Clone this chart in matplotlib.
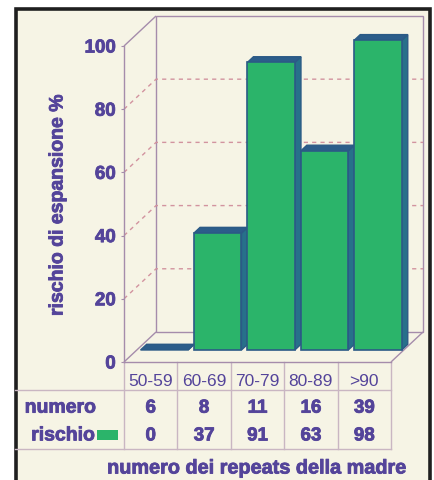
import matplotlib
matplotlib.use("Agg")
import matplotlib.pyplot as plt
import matplotlib.patheffects as pe
from matplotlib.patches import Polygon, Rectangle

# ---- data ----
categories = ["50-59", "60-69", "70-79", "80-89", ">90"]
numero = [6, 8, 11, 16, 39]
rischio = [0, 37, 91, 63, 98]
yticks = [0, 20, 40, 60, 80, 100]

# ---- style ----
BG = "#f6f4e5"
TXT = "#54449a"
WALL = "#a58cab"
GRID = "#d2939f"
TAB = "#c9b6c2"
GREEN = "#2bb46a"
SIDE = "#27708a"
TOP = "#2c5d8a"
EDGE = "#2b5a86"
FONT = "Liberation Sans"
HEAVY = [pe.withStroke(linewidth=0.6, foreground=TXT)]

W, H = 434, 480
fig = plt.figure(figsize=(W / 100, H / 100), dpi=100)
fig.patch.set_facecolor("white")

# outer panel with dark frame
frame = Rectangle((16 / W, -0.02), (430 - 16) / W, (480 - 9) / H + 0.02,
                  transform=fig.transFigure, facecolor=BG,
                  edgecolor="#1f1f1f", lw=2.6, zorder=0)
fig.add_artist(frame)

ax = fig.add_axes([124 / W, 1 - 362 / H, 267 / W, 316 / H])
ax.set_facecolor("none")
ax.set_xlim(0, len(categories))
ax.set_ylim(0, 100)

# oblique depth projection (full depth, in data units)
DX = 0.60
DY = 9.5


def P(x, v, z):
    return (x + z * DX, v + z * DY)


n = len(categories)
line_kw = dict(color=WALL, lw=1.0, clip_on=False, solid_capstyle="butt")

# back wall
wall = Polygon([P(0, 0, 1), P(n, 0, 1), P(n, 100, 1), P(0, 100, 1)],
               closed=True, fill=False, edgecolor=WALL, lw=1.0,
               clip_on=False, zorder=1)
ax.add_patch(wall)
# side / floor edges
for a, b in [((0, 100, 0), (0, 100, 1)), ((0, 0, 0), (0, 0, 1)),
             ((n, 0, 0), (n, 0, 1))]:
    pa, pb = P(*a), P(*b)
    ax.plot([pa[0], pb[0]], [pa[1], pb[1]], zorder=1, **line_kw)

# dashed gridlines on side and back walls
for v in yticks[1:-1]:
    p0, p1, p2 = P(0, v, 0), P(0, v, 1), P(n, v, 1)
    ax.plot([p0[0], p1[0], p2[0]], [p0[1], p1[1], p2[1]], color=GRID,
            lw=1.0, ls=(0, (3, 3)), clip_on=False, zorder=1)

# bars
Z0, Z1 = 0.40, 0.59
for i, h in enumerate(rischio):
    x0, x1 = i + 0.07, i + 0.96
    side = [P(x1, 0, Z0), P(x1, 0, Z1), P(x1, h, Z1), P(x1, h, Z0)]
    top = [P(x0, h, Z0), P(x1, h, Z0), P(x1, h, Z1), P(x0, h, Z1)]
    front = [P(x0, 0, Z0), P(x1, 0, Z0), P(x1, h, Z0), P(x0, h, Z0)]
    ax.add_patch(Polygon(side, closed=True, facecolor=SIDE, edgecolor=EDGE,
                         lw=1.0, clip_on=False, zorder=3))
    ax.add_patch(Polygon(top, closed=True, facecolor=TOP, edgecolor=EDGE,
                         lw=1.0, clip_on=False, zorder=3))
    if h > 0:
        ax.add_patch(Polygon(front, closed=True, facecolor=GREEN,
                             edgecolor=EDGE, lw=1.2, clip_on=False, zorder=4))

# front axes
for s in ["top", "right"]:
    ax.spines[s].set_visible(False)
for s in ["left", "bottom"]:
    ax.spines[s].set_color(WALL)
    ax.spines[s].set_linewidth(1.0)
ax.set_xticks([])
ax.set_yticks(yticks)
ax.set_yticklabels([str(t) for t in yticks], fontfamily=FONT,
                   fontweight="bold", fontsize=13.5, color=TXT)
for lab in ax.get_yticklabels():
    lab.set_path_effects(HEAVY)
ax.tick_params(axis="y", length=2, color=WALL, pad=4)

# table beneath the chart
ROW_CAT = -6.3
LINE1 = -8.9
ROW_NUM = -14.6
ROW_RIS = -23.4
BOTTOM = -27.5
LEFT = -2.05

tab_kw = dict(color=TAB, lw=1.0, clip_on=False)
for k in range(n + 1):
    ax.plot([k, k], [0, BOTTOM], **tab_kw)
ax.plot([LEFT, n], [LINE1, LINE1], **tab_kw)
ax.plot([LEFT, n], [BOTTOM, BOTTOM], **tab_kw)

txt_kw = dict(fontfamily=FONT, color=TXT, clip_on=False)
for i, c in enumerate(categories):
    ax.text(i + 0.5, ROW_CAT, c, ha="center", va="center", fontsize=12.5,
            **txt_kw)
    ax.text(i + 0.5, ROW_NUM, str(numero[i]), ha="center", va="center",
            fontsize=13.5, fontweight="bold", path_effects=HEAVY, **txt_kw)
    ax.text(i + 0.5, ROW_RIS, str(rischio[i]), ha="center", va="center",
            fontsize=13.5, fontweight="bold", path_effects=HEAVY, **txt_kw)

ax.text(-1.86, ROW_NUM, "numero", ha="left", va="center", fontsize=14,
        fontweight="bold", path_effects=HEAVY, **txt_kw)
ax.text(-0.54, ROW_RIS, "rischio", ha="right", va="center", fontsize=14,
        fontweight="bold", path_effects=HEAVY, **txt_kw)
ax.add_patch(Rectangle((-0.51, -24.7), 0.40, 3.2, facecolor=GREEN,
                       edgecolor="none", clip_on=False))

# axis titles
fig.text(58 / W, 1 - 205 / H, "rischio di espansione %", rotation=90,
         ha="center", va="center", fontsize=14, fontweight="bold",
         fontfamily=FONT, color=TXT, path_effects=HEAVY)
fig.text(257 / W, 1 - 468 / H, "numero dei repeats della madre",
         ha="center", va="center", fontsize=14.3, fontweight="bold",
         fontfamily=FONT, color=TXT, path_effects=HEAVY)

fig.savefig("out.png", dpi=100, facecolor=fig.get_facecolor())
